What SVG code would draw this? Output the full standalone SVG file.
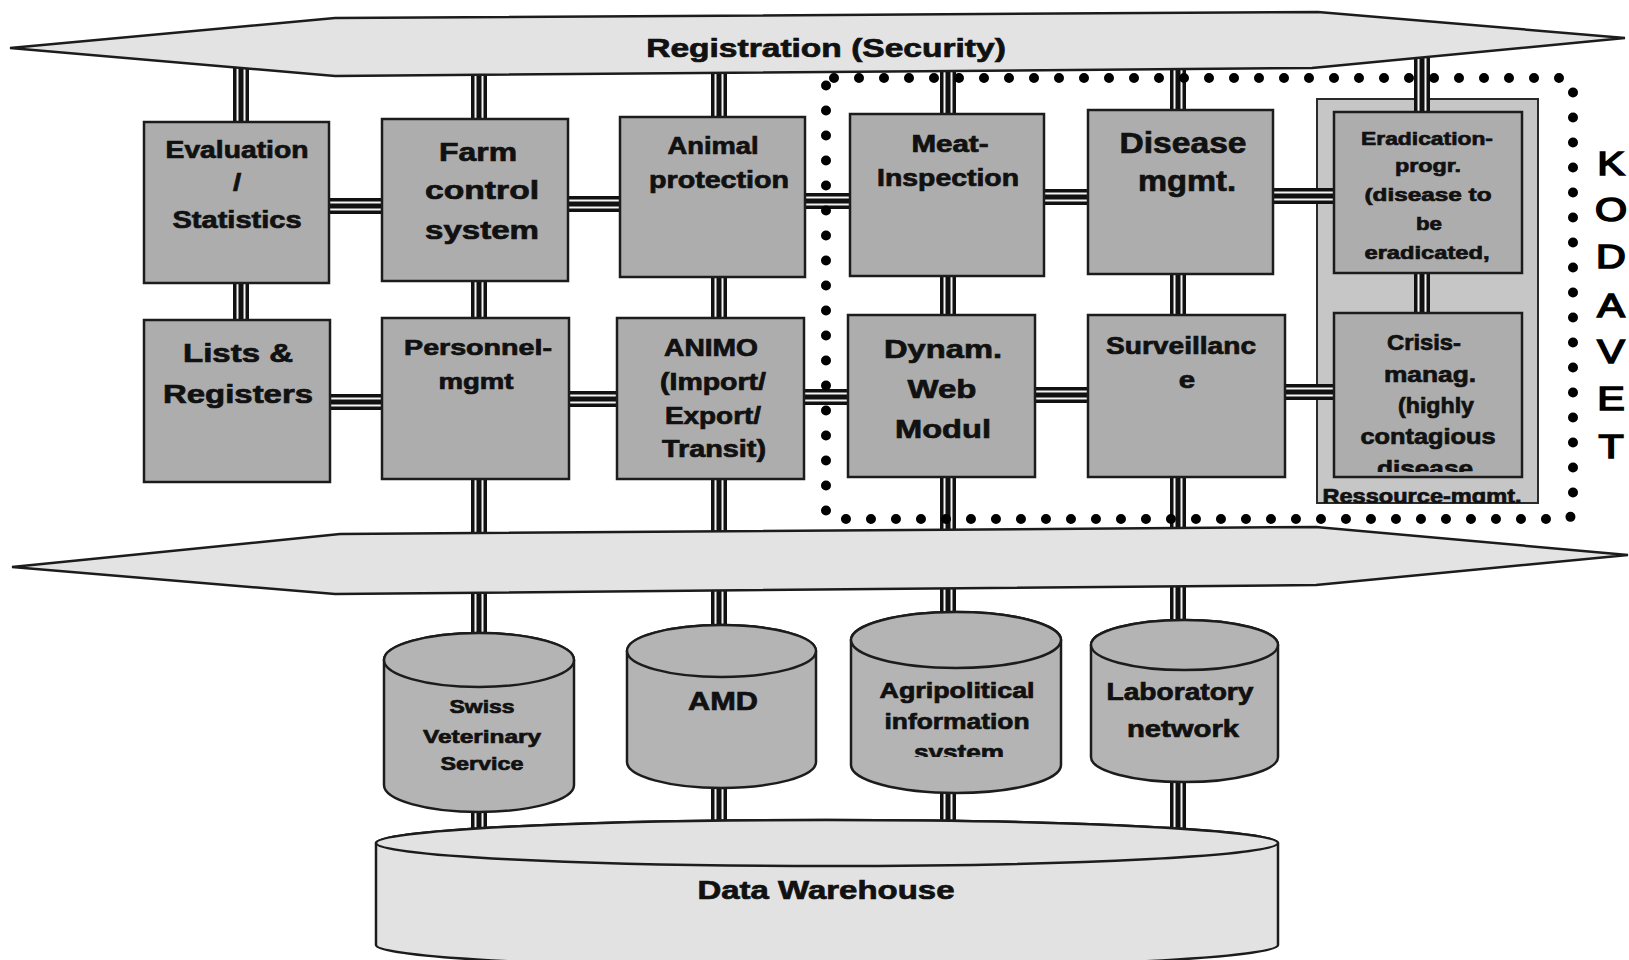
<svg xmlns="http://www.w3.org/2000/svg" width="1629" height="960" viewBox="0 0 1629 960">
<style>
.box{fill:#adadad;stroke:#1c1c1c;stroke-width:2.5}
.cont{fill:#c6c6c6;stroke:#2a2a2a;stroke-width:2}
.band{fill:#e3e3e3;stroke:#1c1c1c;stroke-width:2.5}
.cyl{fill:#b4b4b4;stroke:#1c1c1c;stroke-width:2.5}
.dw{fill:#e2e2e2;stroke:#1c1c1c;stroke-width:2.5}
text{font-family:"Liberation Sans",Arial,sans-serif;font-weight:bold;fill:#111;stroke:#111;stroke-width:0.7;text-anchor:middle}
.s18{font-size:19px}.s19{font-size:20px}.s21{font-size:22px}.s22{font-size:23px}.s25{font-size:26px}.s28{font-size:29px}
.kod{font-weight:normal;font-size:33px;stroke-width:1.6;fill:#000;stroke:#000}
.p1{fill:none;stroke:#111;stroke-width:16}
.p2{fill:none;stroke:#f4f4f4;stroke-width:9}
.p3{fill:none;stroke:#111;stroke-width:5}
.dots{fill:none;stroke:#000;stroke-width:10;stroke-dasharray:0 25;stroke-linecap:round}
</style>
<defs>
<path id="pipes" d="M241 50V330M479 50V850M719 50V850M948 50V850M1178 50V850M1422 50V320M320 206H390M560 204H628M798 201H858M1036 197H1096M1265 196H1342M322 402H390M562 399H625M797 397H856M1028 395H1096M1278 392H1342"/>
<clipPath id="clipCrisis"><rect x="1334" y="313" width="188" height="159"/></clipPath>
<clipPath id="clipAgri"><rect x="851" y="600" width="210" height="157"/></clipPath>
<clipPath id="clipRes"><rect x="1317" y="99" width="221" height="404"/></clipPath>
</defs>
<rect width="1629" height="960" fill="#ffffff"/>

<g id="ressource-mgmt">
<rect class="cont" x="1317" y="99" width="221" height="404"/>
<g clip-path="url(#clipRes)">
<text class="s19" transform="translate(1422 503) scale(1.28 1)" textLength="155.5" lengthAdjust="spacingAndGlyphs">Ressource-mgmt.</text>
</g>
</g>

<g id="connectors">
<use href="#pipes" class="p1"/>
<use href="#pipes" class="p2"/>
<use href="#pipes" class="p3"/>
</g>

<g id="registration">
<polygon class="band" points="10,48 335,18 1318,12 1625,38 1312,68 335,76"/>
<text class="s25" transform="translate(826 57) scale(1.28 1)" textLength="281" lengthAdjust="spacingAndGlyphs">Registration (Security)</text>
</g>

<g id="middle-band">
<polygon class="band" points="12,567 340,534 1316,527 1628,555 1316,585 335,594"/>
</g>

<g id="evaluation">
<rect class="box" x="144" y="122" width="185" height="161"/>
<text class="s22" transform="translate(237 158) scale(1.28 1)" textLength="111.7" lengthAdjust="spacingAndGlyphs">Evaluation</text>
<text class="s22" transform="translate(237 191) scale(1.28 1)">/</text>
<text class="s22" transform="translate(237 228) scale(1.28 1)" textLength="100.8" lengthAdjust="spacingAndGlyphs">Statistics</text>
</g>

<g id="farm">
<rect class="box" x="382" y="119" width="186" height="162"/>
<text class="s25" transform="translate(478 161) scale(1.28 1)" textLength="60.9" lengthAdjust="spacingAndGlyphs">Farm</text>
<text class="s25" transform="translate(482 199) scale(1.28 1)" textLength="89.1" lengthAdjust="spacingAndGlyphs">control</text>
<text class="s25" transform="translate(482 239) scale(1.28 1)" textLength="89.1" lengthAdjust="spacingAndGlyphs">system</text>
</g>

<g id="animal">
<rect class="box" x="620" y="117" width="185" height="160"/>
<text class="s22" transform="translate(713 154) scale(1.28 1)" textLength="71.1" lengthAdjust="spacingAndGlyphs">Animal</text>
<text class="s22" transform="translate(719 188) scale(1.28 1)" textLength="109.4" lengthAdjust="spacingAndGlyphs">protection</text>
</g>

<g id="meat">
<rect class="box" x="850" y="114" width="194" height="162"/>
<text class="s22" transform="translate(950 152) scale(1.28 1)" textLength="60.2" lengthAdjust="spacingAndGlyphs">Meat-</text>
<text class="s22" transform="translate(948 186) scale(1.28 1)" textLength="110.9" lengthAdjust="spacingAndGlyphs">Inspection</text>
</g>

<g id="disease">
<rect class="box" x="1088" y="110" width="185" height="164"/>
<text class="s28" transform="translate(1183 153) scale(1.28 1)" textLength="99.2" lengthAdjust="spacingAndGlyphs">Disease</text>
<text class="s28" transform="translate(1187 191) scale(1.28 1)" textLength="76.6" lengthAdjust="spacingAndGlyphs">mgmt.</text>
</g>

<g id="eradication">
<rect class="box" x="1334" y="112" width="188" height="161"/>
<text class="s18" transform="translate(1427 145) scale(1.28 1)" textLength="103.1" lengthAdjust="spacingAndGlyphs">Eradication-</text>
<text class="s18" transform="translate(1428 172) scale(1.28 1)" textLength="51.6" lengthAdjust="spacingAndGlyphs">progr.</text>
<text class="s18" transform="translate(1428 201) scale(1.28 1)" textLength="99.2" lengthAdjust="spacingAndGlyphs">(disease to</text>
<text class="s18" transform="translate(1429 230) scale(1.28 1)" textLength="20.3" lengthAdjust="spacingAndGlyphs">be</text>
<text class="s18" transform="translate(1427 259) scale(1.28 1)" textLength="97.7" lengthAdjust="spacingAndGlyphs">eradicated,</text>
</g>

<g id="lists">
<rect class="box" x="144" y="320" width="186" height="162"/>
<text class="s25" transform="translate(238 362) scale(1.28 1)" textLength="85.9" lengthAdjust="spacingAndGlyphs">Lists &amp;</text>
<text class="s25" transform="translate(238 403) scale(1.28 1)" textLength="117.2" lengthAdjust="spacingAndGlyphs">Registers</text>
</g>

<g id="personnel">
<rect class="box" x="382" y="318" width="187" height="161"/>
<text class="s21" transform="translate(478 355) scale(1.28 1)" textLength="115.6" lengthAdjust="spacingAndGlyphs">Personnel-</text>
<text class="s21" transform="translate(476 389) scale(1.28 1)" textLength="58.6" lengthAdjust="spacingAndGlyphs">mgmt</text>
</g>

<g id="animo">
<rect class="box" x="617" y="318" width="187" height="161"/>
<text class="s22" transform="translate(711 356) scale(1.28 1)" textLength="73.4" lengthAdjust="spacingAndGlyphs">ANIMO</text>
<text class="s22" transform="translate(713 390) scale(1.28 1)" textLength="82.8" lengthAdjust="spacingAndGlyphs">(Import/</text>
<text class="s22" transform="translate(713 424) scale(1.28 1)" textLength="75" lengthAdjust="spacingAndGlyphs">Export/</text>
<text class="s22" transform="translate(714 457) scale(1.28 1)" textLength="81.3" lengthAdjust="spacingAndGlyphs">Transit)</text>
</g>

<g id="dynam">
<rect class="box" x="848" y="315" width="187" height="162"/>
<text class="s25" transform="translate(943 358) scale(1.28 1)" textLength="92.2" lengthAdjust="spacingAndGlyphs">Dynam.</text>
<text class="s25" transform="translate(942 398) scale(1.28 1)" textLength="53.9" lengthAdjust="spacingAndGlyphs">Web</text>
<text class="s25" transform="translate(943 438) scale(1.28 1)" textLength="75" lengthAdjust="spacingAndGlyphs">Modul</text>
</g>

<g id="surveillance">
<rect class="box" x="1088" y="315" width="197" height="162"/>
<text class="s22" transform="translate(1181 354) scale(1.28 1)" textLength="117.2" lengthAdjust="spacingAndGlyphs">Surveillanc</text>
<text class="s22" transform="translate(1187 388) scale(1.28 1)">e</text>
</g>

<g id="crisis">
<rect class="box" x="1334" y="313" width="188" height="164"/>
<g clip-path="url(#clipCrisis)">
<text class="s21" transform="translate(1424 350) scale(1.28 1)" textLength="57.8" lengthAdjust="spacingAndGlyphs">Crisis-</text>
<text class="s21" transform="translate(1430 382) scale(1.28 1)" textLength="71.9" lengthAdjust="spacingAndGlyphs">manag.</text>
<text class="s21" transform="translate(1436 413) scale(1.28 1)" textLength="59.4" lengthAdjust="spacingAndGlyphs">(highly</text>
<text class="s21" transform="translate(1428 444) scale(1.28 1)" textLength="105.5" lengthAdjust="spacingAndGlyphs">contagious</text>
<text class="s21" transform="translate(1425 476) scale(1.28 1)" textLength="75" lengthAdjust="spacingAndGlyphs">disease</text>
</g>
</g>

<g id="swiss">
<path class="cyl" d="M384 660V785A95 27 0 0 0 574 785V660A95 27 0 0 0 384 660Z"/>
<ellipse class="cyl" cx="479" cy="660" rx="95" ry="27"/>
<text class="s18" transform="translate(482 713) scale(1.28 1)" textLength="50.8" lengthAdjust="spacingAndGlyphs">Swiss</text>
<text class="s18" transform="translate(482 743) scale(1.28 1)" textLength="92.2" lengthAdjust="spacingAndGlyphs">Veterinary</text>
<text class="s18" transform="translate(482 770) scale(1.28 1)" textLength="64.8" lengthAdjust="spacingAndGlyphs">Service</text>
</g>

<g id="amd">
<path class="cyl" d="M627 651V762A94.5 26 0 0 0 816 762V651A94.5 26 0 0 0 627 651Z"/>
<ellipse class="cyl" cx="721.5" cy="651" rx="94.5" ry="26"/>
<text class="s25" transform="translate(723 710) scale(1.28 1)" textLength="54.7" lengthAdjust="spacingAndGlyphs">AMD</text>
</g>

<g id="agri">
<path class="cyl" d="M851 640V765A105 28 0 0 0 1061 765V640A105 28 0 0 0 851 640Z"/>
<ellipse class="cyl" cx="956" cy="640" rx="105" ry="28"/>
<g clip-path="url(#clipAgri)">
<text class="s21" transform="translate(957 698) scale(1.28 1)" textLength="121.1" lengthAdjust="spacingAndGlyphs">Agripolitical</text>
<text class="s21" transform="translate(957 729) scale(1.28 1)" textLength="113.3" lengthAdjust="spacingAndGlyphs">information</text>
<text class="s21" transform="translate(959 760) scale(1.28 1)" textLength="70.3" lengthAdjust="spacingAndGlyphs">system</text>
</g>
</g>

<g id="lab">
<path class="cyl" d="M1091 645V757A93.5 25 0 0 0 1278 757V645A93.5 25 0 0 0 1091 645Z"/>
<ellipse class="cyl" cx="1184.5" cy="645" rx="93.5" ry="25"/>
<text class="s22" transform="translate(1180 700) scale(1.28 1)" textLength="114.8" lengthAdjust="spacingAndGlyphs">Laboratory</text>
<text class="s22" transform="translate(1183 737) scale(1.28 1)" textLength="87.5" lengthAdjust="spacingAndGlyphs">network</text>
</g>

<g id="data-warehouse">
<path class="dw" d="M376 843V945A451 23 0 0 0 1278 945V843A451 23 0 0 0 376 843Z"/>
<ellipse class="dw" cx="827" cy="843" rx="451" ry="23"/>
<text class="s25" transform="translate(826 899) scale(1.28 1)" textLength="200.8" lengthAdjust="spacingAndGlyphs">Data Warehouse</text>
</g>

<g id="kodavet">
<rect class="dots" x="826" y="78" width="747" height="441" rx="8"/>
<g transform="translate(1611 0) scale(1.25 1)">
<text class="kod" x="0" y="175">K</text>
<text class="kod" x="0" y="221">O</text>
<text class="kod" x="0" y="268">D</text>
<text class="kod" x="0" y="317">A</text>
<text class="kod" x="0" y="363">V</text>
<text class="kod" x="0" y="410">E</text>
<text class="kod" x="0" y="458">T</text>
</g>
</g>
</svg>
